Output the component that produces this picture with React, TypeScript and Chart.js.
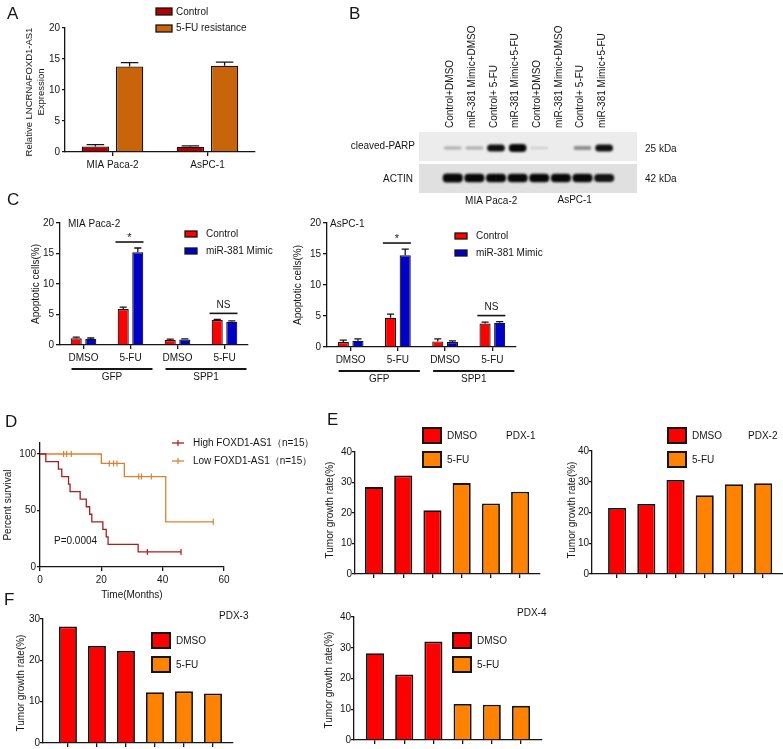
import React, { useEffect, useRef } from "react";
import { Chart, registerables } from "chart.js";
Chart.register(...registerables);

const W = 783;
const H = 749;
const FONT = '"Liberation Sans", Arial, Helvetica, sans-serif';
const INK = "#151515";
Chart.defaults.font.family = FONT;
Chart.defaults.font.size = 10;
Chart.defaults.color = INK;

// ---------- Panel A ----------
const aCategories = ["MIA Paca-2", "AsPC-1"];
const aControl = [0.9, 0.85];
const aControlErr = [0.3, 0.15];
const aResist = [13.8, 13.9];
const aResistErr = [0.6, 0.6];
const aTicks = [0, 5, 10, 15, 20];

// ---------- Panel B (blot band intensities) ----------
const bLanes = [
  "Control+DMSO",
  "miR-381 Mimic+DMSO",
  "Control+ 5-FU",
  "miR-381 Mimic+5-FU",
  "Control+DMSO",
  "miR-381 Mimic+DMSO",
  "Control+ 5-FU",
  "miR-381 Mimic+5-FU",
];
const bParp = [0.15, 0.17, 0.85, 1.0, 0.03, 0.0, 0.3, 0.85];
const bActin = [1.0, 0.95, 0.95, 0.95, 0.95, 0.95, 0.92, 0.85];

// ---------- Panel C ----------
const cCategories = ["DMSO", "5-FU", "DMSO", "5-FU"];
const cGroups = ["GFP", "SPP1"];
const cTicks = [0, 5, 10, 15, 20];
const cMiaControl = [1.1, 5.9, 0.8, 4.1];
const cMiaControlErr = [0.2, 0.3, 0.15, 0.1];
const cMiaMimic = [1.0, 15.2, 0.9, 3.8];
const cMiaMimicErr = [0.15, 0.7, 0.1, 0.15];
const cAsControl = [0.8, 4.7, 0.9, 3.8];
const cAsControlErr = [0.3, 0.6, 0.4, 0.2];
const cAsMimic = [1.0, 14.8, 0.8, 3.9];
const cAsMimicErr = [0.3, 1.0, 0.2, 0.2];

// ---------- Panel D ----------
const dHighTime = [0, 1.9, 6.0, 7.1, 9.3, 9.8, 13.1, 15.1, 16.2, 16.9, 20.5, 21.6, 22.2, 32.0, 46.0];
const dHighSurv = [100, 93.3, 86.7, 80, 73.3, 66.7, 60, 53.3, 46.7, 40, 33.3, 26.7, 20, 13.3, 13.3];
const dHighCensorTime = [35.0, 46.0];
const dHighCensorSurv = [13.3, 13.3];
const dLowTime = [0, 20.0, 27.5, 41.0, 56.5];
const dLowSurv = [100, 91.7, 80, 40, 40];
const dLowCensorTime = [7.7, 8.7, 10.2, 22.6, 24.0, 25.1, 32.2, 33.1, 36.3, 56.5];
const dLowCensorSurv = [100, 100, 100, 91.7, 91.7, 91.7, 80, 80, 80, 40];
const dXTicks = [0, 20, 40, 60];
const dYTicks = [0, 50, 100];

// ---------- Panels E / F ----------
const pdxGroups = ["DMSO", "DMSO", "DMSO", "5-FU", "5-FU", "5-FU"];
const pdx1 = [28.5, 32.3, 20.9, 29.8, 23.1, 27.0];
const pdx2 = [21.5, 22.8, 30.6, 25.6, 29.2, 29.5];
const pdx3 = [28.2, 23.5, 22.3, 12.3, 12.5, 12.0];
const pdx4 = [28.2, 21.3, 32.0, 11.7, 11.5, 11.1];
const ticks40 = [0, 10, 20, 30, 40];
const ticks30 = [0, 10, 20, 30];

const A_CTRL = "#B00000";
const A_RES = "#C8640A";
const C_CTRL = "#FF0000";
const C_MIM = "#0000C8";
const D_HIGH = "#A81E1E";
const D_LOW = "#DB8230";
const PDX_RED = "#FF0000";
const PDX_ORG = "#FF8200";

type Area = { l: number; t: number; r: number; b: number };

function tx(ctx: any, s: string, x: number, y: number, o: any = {}) {
  ctx.save();
  ctx.font = `${o.weight || "normal"} ${o.size || 10}px ${FONT}`;
  ctx.fillStyle = o.color || INK;
  ctx.textAlign = o.align || "left";
  ctx.textBaseline = o.baseline || "middle";
  ctx.translate(x, y);
  if (o.rot) ctx.rotate(o.rot);
  ctx.fillText(s, 0, 0);
  ctx.restore();
}

function ln(ctx: any, x1: number, y1: number, x2: number, y2: number, w = 1.3, color = INK) {
  ctx.save();
  ctx.strokeStyle = color;
  ctx.lineWidth = w;
  ctx.beginPath();
  ctx.moveTo(x1, y1);
  ctx.lineTo(x2, y2);
  ctx.stroke();
  ctx.restore();
}

function bx(ctx: any, x: number, y: number, w: number, h: number, fill: string, lw = 1.3) {
  ctx.save();
  ctx.fillStyle = fill;
  ctx.fillRect(x, y, w, h);
  ctx.strokeStyle = INK;
  ctx.lineWidth = lw;
  ctx.strokeRect(x, y, w, h);
  ctx.restore();
}

const fixTicks = (vals: number[]) => (s: any) => {
  s.ticks = vals.map((v) => ({ value: v }));
};

function xAxis(a: Area, extra: any = {}) {
  const { ticks, grid, ...rest } = extra;
  return {
    offset: false,
    ...rest,
    border: { display: true, color: INK, width: 1.3 },
    grid: { display: true, drawOnChartArea: false, drawTicks: true, tickLength: 4, color: INK, lineWidth: 1.3, offset: false, ...(grid || {}) },
    ticks: { color: INK, font: { size: 10, family: FONT }, padding: 3, maxRotation: 0, minRotation: 0, autoSkip: false, ...(ticks || {}) },
    afterFit: (s: any) => {
      s.height = H - a.b;
    },
  };
}

function yAxis(a: Area, extra: any = {}, tickLen = 3, pad = 1) {
  const { ticks, ...rest } = extra;
  return {
    ...rest,
    border: { display: true, color: INK, width: 1.3 },
    grid: { display: true, drawOnChartArea: false, drawTicks: true, tickLength: tickLen, color: INK, lineWidth: 1.3 },
    ticks: { color: INK, font: { size: 10, family: FONT }, padding: pad, autoSkip: false, ...(ticks || {}) },
    afterFit: (s: any) => {
      s.width = a.l;
    },
  };
}

function opts(a: Area, scales: any, hiddenAxes = false) {
  return {
    responsive: false,
    animation: false,
    events: [],
    layout: {
      autoPadding: false,
      padding: hiddenAxes
        ? { left: a.l, top: a.t, right: W - a.r, bottom: H - a.b }
        : { left: 0, top: a.t, right: W - a.r, bottom: 0 },
    },
    plugins: { legend: { display: false }, tooltip: { enabled: false }, title: { display: false } },
    scales,
  };
}

const errorBars = {
  id: "errorBars",
  afterDatasetsDraw(chart: any) {
    const ctx = chart.ctx;
    const ys = chart.scales.y;
    chart.data.datasets.forEach((ds: any, di: number) => {
      const errs = ds.errors;
      if (!errs) return;
      const meta = chart.getDatasetMeta(di);
      meta.data.forEach((bar: any, i: number) => {
        const v = ds.data[i];
        const top = ys.getPixelForValue(v + errs[i]);
        const p = bar.getProps(["x", "y", "width"], true);
        ctx.save();
        ctx.strokeStyle = INK;
        ctx.lineWidth = 1.3;
        ctx.beginPath();
        ctx.moveTo(p.x, p.y);
        ctx.lineTo(p.x, top);
        ctx.moveTo(p.x - p.width * 0.32, top);
        ctx.lineTo(p.x + p.width * 0.32, top);
        ctx.stroke();
        ctx.restore();
      });
    });
  },
};

// ---------- Chart A ----------
function makeA() {
  const a: Area = { l: 65, t: 28, r: 255, b: 152 };
  return {
    type: "bar",
    data: {
      labels: aCategories,
      datasets: [
        { label: "Control", data: aControl, errors: aControlErr, backgroundColor: A_CTRL, borderColor: INK, borderWidth: 1.3, barPercentage: 0.8, categoryPercentage: 0.72 },
        { label: "5-FU resistance", data: aResist, errors: aResistErr, backgroundColor: A_RES, borderColor: INK, borderWidth: 1.3, barPercentage: 0.8, categoryPercentage: 0.72 },
      ],
    },
    options: opts(a, {
      x: xAxis(a, { type: "category", offset: true }),
      y: yAxis(a, { min: 0, max: 20, afterBuildTicks: fixTicks(aTicks) }, 3, 2),
    }),
    plugins: [
      errorBars,
      {
        id: "aExtras",
        afterDraw(c: any) {
          const ctx = c.ctx;
          bx(ctx, 156, 8, 16, 7, A_CTRL);
          tx(ctx, "Control", 176, 12);
          bx(ctx, 156, 25, 16, 7, A_RES);
          tx(ctx, "5-FU resistance", 176, 28.5);
          tx(ctx, "Relative LNCRNAFOXD1-AS1", 29, 92, { rot: -Math.PI / 2, align: "center", size: 9.5 });
          tx(ctx, "Expression", 41, 92, { rot: -Math.PI / 2, align: "center", size: 9.5 });
        },
      },
    ],
  };
}

// ---------- Chart B (western blot drawn as floating bars) ----------
function makeB() {
  const a: Area = { l: 419, t: 132, r: 637, b: 193 };
  const parpC = 45;
  const actinC = 15;
  const ph = (v: number) => (v > 0.01 ? 1 + 3 * v : 0);
  const ah = (v: number) => 4.6 * v;
  return {
    type: "bar",
    data: {
      datasets: [
        {
          label: "cleaved-PARP",
          data: bParp.map((v, i) => ({ x: i + 1, y: [parpC - ph(v), parpC + ph(v)] })),
          backgroundColor: bParp.map((v) => `rgba(8,8,8,${Math.min(1, 0.12 + v)})`),
          barPercentage: 0.82,
          categoryPercentage: 1,
          grouped: false,
          borderRadius: 4,
          borderSkipped: false,
        },
        {
          label: "ACTIN",
          data: bActin.map((v, i) => ({ x: i + 1, y: [actinC - ah(v), actinC + ah(v)] })),
          backgroundColor: bActin.map((v) => `rgba(8,8,8,${Math.min(1, 0.1 + v)})`),
          barPercentage: 0.93,
          categoryPercentage: 1,
          grouped: false,
          borderRadius: 4,
          borderSkipped: false,
        },
      ],
    },
    options: opts(
      a,
      {
        x: { type: "linear", display: false, min: 0.07, max: 8.89, afterBuildTicks: fixTicks(bLanes.map((_, i) => i + 1)) },
        y: { type: "linear", display: false, min: 0, max: 61 },
      },
      true
    ),
    plugins: [
      {
        id: "blot",
        beforeDatasetsDraw(c: any) {
          const ctx = c.ctx;
          const ys = c.scales.y;
          const { left, right } = c.chartArea;
          ctx.fillStyle = "#ececec";
          ctx.fillRect(left, ys.getPixelForValue(61), right - left, ys.getPixelForValue(32) - ys.getPixelForValue(61));
          ctx.fillStyle = "#e0e0e0";
          ctx.fillRect(left, ys.getPixelForValue(29), right - left, ys.getPixelForValue(0) - ys.getPixelForValue(29));
          ctx.save();
          ctx.filter = "blur(1px)";
        },
        afterDatasetsDraw(c: any) {
          c.ctx.restore();
        },
        afterDraw(c: any) {
          const ctx = c.ctx;
          const xs = c.scales.x;
          const ys = c.scales.y;
          bLanes.forEach((lab, i) => {
            tx(ctx, lab, xs.getPixelForValue(i + 1) - 2, a.t - 4, { rot: -Math.PI / 2, align: "left" });
          });
          tx(ctx, "cleaved-PARP", a.l - 4, ys.getPixelForValue(parpC) - 2, { align: "right" });
          tx(ctx, "ACTIN", a.l - 6, ys.getPixelForValue(actinC) + 1, { align: "right" });
          tx(ctx, "25 kDa", a.r + 8, ys.getPixelForValue(parpC) + 1);
          tx(ctx, "42 kDa", a.r + 8, ys.getPixelForValue(actinC) + 1);
          tx(ctx, "MIA Paca-2", (xs.getPixelForValue(2) + xs.getPixelForValue(3)) / 2 + 6, 201, { align: "center" });
          tx(ctx, "AsPC-1", (xs.getPixelForValue(6) + xs.getPixelForValue(7)) / 2 + 3, 200, { align: "center" });
        },
      },
    ],
  };
}

// ---------- Charts C ----------
function makeC(a: Area, title: string, titleX: number, yTitleX: number, legX: number, legY: number, ctrl: number[], ctrlErr: number[], mim: number[], mimErr: number[]) {
  return {
    type: "bar",
    data: {
      labels: cCategories,
      datasets: [
        { label: "Control", data: ctrl, errors: ctrlErr, backgroundColor: C_CTRL, borderColor: INK, borderWidth: 1.2, barPercentage: 0.76, categoryPercentage: 0.62 },
        { label: "miR-381 Mimic", data: mim, errors: mimErr, backgroundColor: C_MIM, borderColor: INK, borderWidth: 1.2, barPercentage: 0.76, categoryPercentage: 0.62 },
      ],
    },
    options: opts(a, {
      x: xAxis(a, { type: "category", offset: true }),
      y: yAxis(a, { min: 0, max: 20, afterBuildTicks: fixTicks(cTicks) }, 4, 2),
    }),
    plugins: [
      errorBars,
      {
        id: "cExtras",
        afterDraw(c: any) {
          const ctx = c.ctx;
          const xs = c.scales.x;
          const ys = c.scales.y;
          tx(ctx, title, titleX, a.t + 1);
          bx(ctx, legX, legY - 3, 12, 6, C_CTRL);
          tx(ctx, "Control", legX + 21, legY);
          bx(ctx, legX, legY + 14, 12, 6, C_MIM);
          tx(ctx, "miR-381 Mimic", legX + 21, legY + 17);
          tx(ctx, "Apoptotic cells(%)", yTitleX, (a.t + a.b) / 2, { rot: -Math.PI / 2, align: "center" });
          const sig = (i: number, label: string, star: boolean) => {
            const top = Math.max(ctrl[i] + ctrlErr[i], mim[i] + mimErr[i]);
            const ly = ys.getPixelForValue(top) - 6;
            const cx = xs.getPixelForValue(i) - 1;
            ln(ctx, cx - 14, ly, cx + 14, ly, 1.6);
            if (star) tx(ctx, label, cx, ly - 1, { baseline: "alphabetic", align: "center", size: 11 });
            else tx(ctx, label, cx, ly - 8, { align: "center" });
          };
          sig(1, "*", true);
          sig(3, "NS", false);
          const gy = c.chartArea.bottom + 24;
          cGroups.forEach((lab, g) => {
            const x1 = xs.getPixelForValue(g * 2) - 12;
            const x2 = xs.getPixelForValue(g * 2 + 1) + 22;
            ln(ctx, x1, gy, x2, gy, 2);
            tx(ctx, lab, (x1 + x2) / 2, gy + 8, { align: "center" });
          });
        },
      },
    ],
  };
}

// ---------- Chart D ----------
function makeD() {
  const a: Area = { l: 40, t: 442.7, r: 224, b: 567 };
  const pts = (xs: number[], ys: number[]) => xs.map((x, i) => ({ x, y: ys[i] }));
  const censor = (color: string) => ({
    showLine: false,
    pointStyle: "line",
    pointRotation: 90,
    pointRadius: 3,
    pointBorderColor: color,
    pointBorderWidth: 1.2,
    borderColor: color,
  });
  return {
    type: "line",
    data: {
      datasets: [
        { label: "High FOXD1-AS1", data: pts(dHighTime, dHighSurv), borderColor: D_HIGH, borderWidth: 1.3, stepped: true, pointRadius: 0 },
        { label: "Low FOXD1-AS1", data: pts(dLowTime, dLowSurv), borderColor: D_LOW, borderWidth: 1.3, stepped: true, pointRadius: 0 },
        { label: "High censored", data: pts(dHighCensorTime, dHighCensorSurv), ...censor(D_HIGH) },
        { label: "Low censored", data: pts(dLowCensorTime, dLowCensorSurv), ...censor(D_LOW) },
      ],
    },
    options: {
      ...opts(a, {
        x: xAxis(a, { type: "linear", min: 0, max: 60, afterBuildTicks: fixTicks(dXTicks) }),
        y: yAxis(a, { min: 0, max: 110, afterBuildTicks: fixTicks(dYTicks) }),
      }),
    },
    plugins: [
      {
        id: "dExtras",
        afterDraw(c: any) {
          const ctx = c.ctx;
          const leg = (y: number, color: string, label: string) => {
            ln(ctx, 172, y, 184, y, 1.3, color);
            ln(ctx, 178, y - 3, 178, y + 3, 1.2, color);
            tx(ctx, label, 193, y);
          };
          leg(443, D_HIGH, "High FOXD1-AS1（n=15）");
          leg(461, D_LOW, "Low FOXD1-AS1（n=15）");
          tx(ctx, "P=0.0004", 54, 541);
          tx(ctx, "Percent survival", 8, 505, { rot: -Math.PI / 2, align: "center" });
          tx(ctx, "Time(Months)", 132, 595, { align: "center" });
        },
      },
    ],
  };
}

// ---------- Charts E / F ----------
function makePdx(a: Area, vals: number[], xmin: number, xmax: number, ymax: number, yt: number[], o: any) {
  return {
    type: "bar",
    data: {
      datasets: [
        {
          label: o.title,
          data: vals.map((v, i) => ({ x: i + 1, y: v })),
          backgroundColor: pdxGroups.map((g) => (g === "DMSO" ? PDX_RED : PDX_ORG)),
          borderColor: INK,
          borderWidth: 1.8,
          barPercentage: 0.62,
          categoryPercentage: 1,
        },
      ],
    },
    options: opts(a, {
      x: xAxis(a, { type: "linear", min: xmin, max: xmax, afterBuildTicks: fixTicks(vals.map((_, i) => i + 1)), ticks: { callback: () => "" } }),
      y: yAxis(a, { min: 0, max: ymax, afterBuildTicks: fixTicks(yt) }, 3, 0),
    }),
    plugins: [
      {
        id: "pdxExtras",
        afterDraw(c: any) {
          const ctx = c.ctx;
          bx(ctx, o.legX, o.legY, 18, 15, PDX_RED, 2);
          tx(ctx, "DMSO", o.legX + 24, o.legY + 8);
          bx(ctx, o.legX, o.legY + 24, 18, 15, PDX_ORG, 2);
          tx(ctx, "5-FU", o.legX + 24, o.legY + 32);
          tx(ctx, o.title, o.titleX, o.titleY);
          tx(ctx, "Tumor growth rate(%)", o.yTitleX, o.yTitleY, { rot: -Math.PI / 2, align: "center" });
        },
      },
    ],
  };
}

const makers: Array<() => any> = [
  makeA,
  makeB,
  () => makeC({ l: 60, t: 223, r: 248, b: 345 }, "MIA Paca-2", 68, 36, 185, 234, cMiaControl, cMiaControlErr, cMiaMimic, cMiaMimicErr),
  () => makeC({ l: 327, t: 223, r: 516, b: 347 }, "AsPC-1", 330, 298, 455, 236, cAsControl, cAsControlErr, cAsMimic, cAsMimicErr),
  makeD,
  () => makePdx({ l: 355, t: 452, r: 540, b: 574 }, pdx1, 0.35, 6.68, 40, ticks40, { title: "PDX-1", titleX: 506, titleY: 436, legX: 423, legY: 428, yTitleX: 330, yTitleY: 510 }),
  () => makePdx({ l: 592, t: 451, r: 783, b: 574 }, pdx2, 0.14, 6.68, 40, ticks40, { title: "PDX-2", titleX: 748, titleY: 436, legX: 668, legY: 428, yTitleX: 572, yTitleY: 510 }),
  () => makePdx({ l: 43, t: 619, r: 233, b: 743 }, pdx3, 0.14, 6.69, 30, ticks30, { title: "PDX-3", titleX: 219, titleY: 616, legX: 152, legY: 633, yTitleX: 21, yTitleY: 683 }),
  () => makePdx({ l: 354, t: 617, r: 542, b: 740 }, pdx4, 0.28, 6.72, 40, ticks40, { title: "PDX-4", titleX: 517, titleY: 613, legX: 453, legY: 633, yTitleX: 329, yTitleY: 680 }),
];

function ChartCanvas({ make }: { make: () => any }) {
  const ref = useRef<HTMLCanvasElement>(null);
  useEffect(() => {
    const chart = new Chart(ref.current as HTMLCanvasElement, make());
    return () => chart.destroy();
  }, []);
  return <canvas ref={ref} width={W} height={H} style={{ position: "absolute", left: 0, top: 0, width: W, height: H }} />;
}

const letters = [
  { t: "A", x: 7, y: 5 },
  { t: "B", x: 349, y: 5 },
  { t: "C", x: 7, y: 191 },
  { t: "D", x: 5, y: 413 },
  { t: "E", x: 327, y: 411 },
  { t: "F", x: 4, y: 591 },
];

export default function App() {
  return (
    <div style={{ position: "absolute", left: 0, top: 0, width: W, height: H, background: "#fff", overflow: "hidden" }}>
      {makers.map((m, i) => (
        <ChartCanvas key={i} make={m} />
      ))}
      {letters.map((l) => (
        <div key={l.t} style={{ position: "absolute", left: l.x, top: l.y, fontFamily: FONT, fontSize: 17, lineHeight: "17px", color: INK }}>
          {l.t}
        </div>
      ))}
    </div>
  );
}
